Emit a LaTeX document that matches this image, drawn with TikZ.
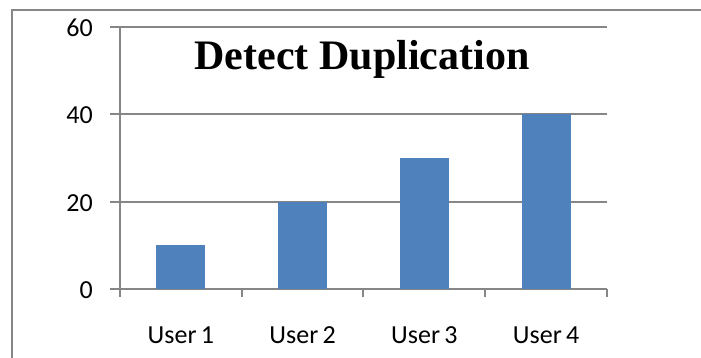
\documentclass[tikz,border=0pt]{standalone}
\usepackage{fontspec}
\setmainfont{Carlito}
\newfontfamily\titlefont{Liberation Serif}
\definecolor{barblue}{HTML}{4F81BD}
\definecolor{axisgray}{HTML}{868686}
\begin{document}
\begin{tikzpicture}[x=1pt,y=-1pt,
  frameline/.style={draw=axisgray,line width=1.8pt},
  gridline/.style={draw=axisgray,line width=1.4pt},
  barstyle/.style={fill=barblue,draw=none},
  ticklab/.style={font=\fontsize{26}{26}\selectfont,inner sep=0pt},
  catlab/.style={font=\fontsize{26}{26}\selectfont,inner sep=0pt,anchor=base}]
\useasboundingbox (0,0) rectangle (701,358);
\clip (0,0) rectangle (701,358);
% outer frame
\draw[frameline] (12,370) -- (12,10) -- (720,10);
% gridlines and y ticks
\foreach \v/\y in {0/289,20/202,40/114,60/27}{
  \draw[gridline] (110,\y) -- (607,\y);
  \node[ticklab,anchor=east] (yl\v) at (93,\y+1) {\v};
}
% y axis
\draw[gridline] (120,27) -- (120,297);
% x ticks
\foreach \x in {242,363,485,607}{
  \draw[gridline] (\x,289) -- (\x,297);
}
% bars
\foreach \i/\val in {1/10,2/20,3/30,4/40}{
  \pgfmathsetmacro\cx{120+121.75*(\i-0.5)}
  \pgfmathsetmacro\top{289-4.367*\val}
  \fill[barstyle] (\cx-24.5,289) rectangle (\cx+24.5,\top);
  \node[catlab] (cl\i) at (\cx,343) {User\,\i};
}
% title
\node[font=\titlefont\bfseries\fontsize{42}{42}\selectfont,inner sep=0pt,anchor=base] (title) at (362,70) {Detect Duplication};
\end{tikzpicture}
\end{document}
